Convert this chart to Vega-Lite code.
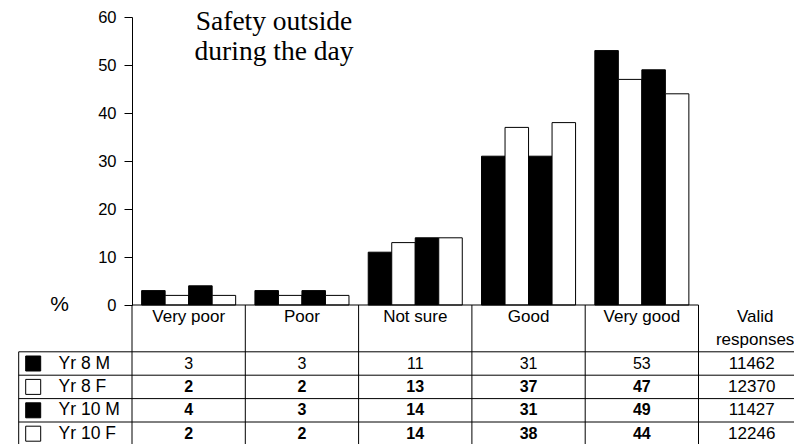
{
  "$schema": "https://vega.github.io/schema/vega-lite/v6.json",
  "width": 662,
  "height": 427,
  "autosize": {"type": "none"},
  "padding": {"left": 132, "top": 17, "right": 0, "bottom": 0},
  "background": "white",
  "config": {"view": {"stroke": null}, "font": "Liberation Sans"},
  "title": {
    "text": ["Safety outside", "during the day"],
    "font": "Liberation Serif",
    "fontSize": 27.5,
    "fontWeight": "normal",
    "color": "black",
    "anchor": "start",
    "frame": "group",
    "align": "center",
    "baseline": "top",
    "lineHeight": 30,
    "offset": 0,
    "dx": 142,
    "dy": 56
  },
  "datasets": {
    "bars": [
      {"cat": "Very poor", "grp": "Yr 8 M", "pct": 3},
      {"cat": "Very poor", "grp": "Yr 8 F", "pct": 2},
      {"cat": "Very poor", "grp": "Yr 10 M", "pct": 4},
      {"cat": "Very poor", "grp": "Yr 10 F", "pct": 2},
      {"cat": "Poor", "grp": "Yr 8 M", "pct": 3},
      {"cat": "Poor", "grp": "Yr 8 F", "pct": 2},
      {"cat": "Poor", "grp": "Yr 10 M", "pct": 3},
      {"cat": "Poor", "grp": "Yr 10 F", "pct": 2},
      {"cat": "Not sure", "grp": "Yr 8 M", "pct": 11},
      {"cat": "Not sure", "grp": "Yr 8 F", "pct": 13},
      {"cat": "Not sure", "grp": "Yr 10 M", "pct": 14},
      {"cat": "Not sure", "grp": "Yr 10 F", "pct": 14},
      {"cat": "Good", "grp": "Yr 8 M", "pct": 31},
      {"cat": "Good", "grp": "Yr 8 F", "pct": 37},
      {"cat": "Good", "grp": "Yr 10 M", "pct": 31},
      {"cat": "Good", "grp": "Yr 10 F", "pct": 38},
      {"cat": "Very good", "grp": "Yr 8 M", "pct": 53},
      {"cat": "Very good", "grp": "Yr 8 F", "pct": 47},
      {"cat": "Very good", "grp": "Yr 10 M", "pct": 49},
      {"cat": "Very good", "grp": "Yr 10 F", "pct": 44}
    ],
    "valid": [
      {"grp": "Yr 8 M", "n": 11462},
      {"grp": "Yr 8 F", "n": 12370},
      {"grp": "Yr 10 M", "n": 11427},
      {"grp": "Yr 10 F", "n": 12246}
    ],
    "heads": [
      {"col": "Very poor", "row": "h1", "label": "Very poor"},
      {"col": "Poor", "row": "h1", "label": "Poor"},
      {"col": "Not sure", "row": "h1", "label": "Not sure"},
      {"col": "Good", "row": "h1", "label": "Good"},
      {"col": "Very good", "row": "h1", "label": "Very good"},
      {"col": "Valid responses", "row": "h1", "label": "Valid"},
      {"col": "Valid responses", "row": "h2", "label": "responses"}
    ],
    "vlines": [
      {"col": "label", "from": "Yr 8 M"},
      {"col": "Very poor", "from": "h1"},
      {"col": "Poor", "from": "h1"},
      {"col": "Not sure", "from": "h1"},
      {"col": "Good", "from": "h1"},
      {"col": "Very good", "from": "h1"},
      {"col": "Valid responses", "from": "h1"}
    ],
    "hlines": [
      {"row": "h1", "from": "Very poor", "to": "Valid responses"},
      {"row": "Yr 8 M", "from": "label", "to": "end"},
      {"row": "Yr 8 F", "from": "label", "to": "end"},
      {"row": "Yr 10 M", "from": "label", "to": "end"},
      {"row": "Yr 10 F", "from": "label", "to": "end"},
      {"row": "end", "from": "label", "to": "end"}
    ]
  },
  "resolve": {"scale": {"x": "independent", "y": "independent", "fill": "independent"}},
  "layer": [
    {
      "data": {"name": "bars"},
      "mark": {"type": "bar", "stroke": "black", "strokeWidth": 1},
      "encoding": {
        "x": {"field": "cat", "type": "nominal", "scale": {"domain": ["Very poor", "Poor", "Not sure", "Good", "Very good"], "range": [0, 566.5], "paddingInner": 0.17, "paddingOuter": 0.085}, "axis": null},
        "xOffset": {"field": "grp", "type": "nominal", "scale": {"domain": ["Yr 8 M", "Yr 8 F", "Yr 10 M", "Yr 10 F"], "paddingInner": 0, "paddingOuter": 0}},
        "y": {"field": "pct", "type": "quantitative", "scale": {"domain": [0, 60], "range": [288, 0], "nice": false, "zero": true},
          "axis": {"values": [0, 10, 20, 30, 40, 50, 60], "tickSize": 8, "labelFontSize": 16.5, "labelFont": "Liberation Sans", "labelColor": "black", "labelPadding": 8, "domainColor": "black", "tickColor": "black", "grid": false, "title": null}},
        "fill": {"field": "grp", "type": "nominal", "scale": {"domain": ["Yr 8 M", "Yr 8 F", "Yr 10 M", "Yr 10 F"], "range": ["black", "white", "black", "white"]}, "legend": null}
      }
    },
    {
      "data": {"name": "vlines"},
      "mark": {"type": "rule", "color": "black", "strokeWidth": 1},
      "encoding": {
        "x": {"field": "col", "type": "nominal", "bandPosition": 0, "axis": null, "scale": {"type": "band", "domain": ["label", "Very poor", "Poor", "Not sure", "Good", "Very good", "Valid responses", "end"], "range": [-113.3, 793.1], "paddingInner": 0, "paddingOuter": 0}},
        "y": {"field": "from", "type": "nominal", "bandPosition": 0, "axis": null, "scale": {"type": "band", "domain": ["h1", "h2", "Yr 8 M", "Yr 8 F", "Yr 10 M", "Yr 10 F", "end"], "range": [288, 451.8], "paddingInner": 0, "paddingOuter": 0}},
        "y2": {"datum": "end", "bandPosition": 0}
      }
    },
    {
      "data": {"name": "hlines"},
      "mark": {"type": "rule", "color": "black", "strokeWidth": 1},
      "encoding": {
        "x": {"field": "from", "type": "nominal", "bandPosition": 0, "axis": null, "scale": {"type": "band", "domain": ["label", "Very poor", "Poor", "Not sure", "Good", "Very good", "Valid responses", "end"], "range": [-113.3, 793.1], "paddingInner": 0, "paddingOuter": 0}},
        "x2": {"field": "to", "bandPosition": 0},
        "y": {"field": "row", "type": "nominal", "bandPosition": 0, "axis": null, "scale": {"type": "band", "domain": ["h1", "h2", "Yr 8 M", "Yr 8 F", "Yr 10 M", "Yr 10 F", "end"], "range": [288, 451.8], "paddingInner": 0, "paddingOuter": 0}}
      }
    },
    {
      "data": {"name": "bars"},
      "transform": [{"filter": "datum.grp === 'Yr 8 M'"}],
      "mark": {"type": "text", "fontSize": 16, "baseline": "middle", "align": "center", "color": "black", "font": "Liberation Sans", "fontWeight": "normal"},
      "encoding": {
        "x": {"field": "cat", "type": "nominal", "axis": null, "scale": {"type": "band", "domain": ["label", "Very poor", "Poor", "Not sure", "Good", "Very good", "Valid responses", "end"], "range": [-113.3, 793.1], "paddingInner": 0, "paddingOuter": 0}},
        "y": {"field": "grp", "type": "nominal", "axis": null, "scale": {"type": "band", "domain": ["h1", "h2", "Yr 8 M", "Yr 8 F", "Yr 10 M", "Yr 10 F", "end"], "range": [288, 451.8], "paddingInner": 0, "paddingOuter": 0}},
        "text": {"field": "pct", "type": "quantitative"}
      }
    },
    {
      "data": {"name": "bars"},
      "transform": [{"filter": "datum.grp !== 'Yr 8 M'"}],
      "mark": {"type": "text", "fontSize": 16, "baseline": "middle", "align": "center", "color": "black", "font": "Liberation Sans", "fontWeight": "bold"},
      "encoding": {
        "x": {"field": "cat", "type": "nominal", "axis": null, "scale": {"type": "band", "domain": ["label", "Very poor", "Poor", "Not sure", "Good", "Very good", "Valid responses", "end"], "range": [-113.3, 793.1], "paddingInner": 0, "paddingOuter": 0}},
        "y": {"field": "grp", "type": "nominal", "axis": null, "scale": {"type": "band", "domain": ["h1", "h2", "Yr 8 M", "Yr 8 F", "Yr 10 M", "Yr 10 F", "end"], "range": [288, 451.8], "paddingInner": 0, "paddingOuter": 0}},
        "text": {"field": "pct", "type": "quantitative"}
      }
    },
    {
      "data": {"name": "valid"},
      "mark": {"type": "text", "fontSize": 17, "baseline": "middle", "align": "center", "color": "black", "font": "Liberation Sans"},
      "encoding": {
        "x": {"datum": "Valid responses", "type": "nominal", "bandPosition": 0.47, "axis": null, "scale": {"type": "band", "domain": ["label", "Very poor", "Poor", "Not sure", "Good", "Very good", "Valid responses", "end"], "range": [-113.3, 793.1], "paddingInner": 0, "paddingOuter": 0}},
        "y": {"field": "grp", "type": "nominal", "axis": null, "scale": {"type": "band", "domain": ["h1", "h2", "Yr 8 M", "Yr 8 F", "Yr 10 M", "Yr 10 F", "end"], "range": [288, 451.8], "paddingInner": 0, "paddingOuter": 0}},
        "text": {"field": "n", "type": "nominal"}
      }
    },
    {
      "data": {"name": "heads"},
      "mark": {"type": "text", "fontSize": 17, "baseline": "middle", "align": "center", "color": "black", "font": "Liberation Sans"},
      "encoding": {
        "x": {"field": "col", "type": "nominal", "bandPosition": 0.5, "axis": null, "scale": {"type": "band", "domain": ["label", "Very poor", "Poor", "Not sure", "Good", "Very good", "Valid responses", "end"], "range": [-113.3, 793.1], "paddingInner": 0, "paddingOuter": 0}},
        "y": {"field": "row", "type": "nominal", "axis": null, "scale": {"type": "band", "domain": ["h1", "h2", "Yr 8 M", "Yr 8 F", "Yr 10 M", "Yr 10 F", "end"], "range": [288, 451.8], "paddingInner": 0, "paddingOuter": 0}},
        "text": {"field": "label", "type": "nominal"}
      }
    },
    {
      "data": {"name": "valid"},
      "mark": {"type": "text", "fontSize": 17.5, "baseline": "middle", "align": "left", "color": "black", "font": "Liberation Sans"},
      "encoding": {
        "x": {"datum": "label", "type": "nominal", "bandPosition": 0.352, "axis": null, "scale": {"type": "band", "domain": ["label", "Very poor", "Poor", "Not sure", "Good", "Very good", "Valid responses", "end"], "range": [-113.3, 793.1], "paddingInner": 0, "paddingOuter": 0}},
        "y": {"field": "grp", "type": "nominal", "axis": null, "scale": {"type": "band", "domain": ["h1", "h2", "Yr 8 M", "Yr 8 F", "Yr 10 M", "Yr 10 F", "end"], "range": [288, 451.8], "paddingInner": 0, "paddingOuter": 0}},
        "text": {"field": "grp", "type": "nominal"}
      }
    },
    {
      "data": {"name": "valid"},
      "mark": {"type": "point", "shape": "square", "size": 225, "filled": true, "opacity": 1, "stroke": "black", "strokeWidth": 1},
      "encoding": {
        "x": {"datum": "label", "type": "nominal", "bandPosition": 0.128, "axis": null, "scale": {"type": "band", "domain": ["label", "Very poor", "Poor", "Not sure", "Good", "Very good", "Valid responses", "end"], "range": [-113.3, 793.1], "paddingInner": 0, "paddingOuter": 0}},
        "y": {"field": "grp", "type": "nominal", "axis": null, "scale": {"type": "band", "domain": ["h1", "h2", "Yr 8 M", "Yr 8 F", "Yr 10 M", "Yr 10 F", "end"], "range": [288, 451.8], "paddingInner": 0, "paddingOuter": 0}},
        "fill": {"field": "grp", "type": "nominal", "scale": {"domain": ["Yr 8 M", "Yr 8 F", "Yr 10 M", "Yr 10 F"], "range": ["black", "white", "black", "white"]}, "legend": null}
      }
    },
    {
      "data": {"values": [{"label": "%"}]},
      "mark": {"type": "text", "fontSize": 21, "baseline": "middle", "align": "center", "color": "black", "font": "Liberation Sans"},
      "encoding": {
        "x": {"datum": "label", "type": "nominal", "bandPosition": 0.362, "axis": null, "scale": {"type": "band", "domain": ["label", "Very poor", "Poor", "Not sure", "Good", "Very good", "Valid responses", "end"], "range": [-113.3, 793.1], "paddingInner": 0, "paddingOuter": 0}},
        "y": {"datum": "h1", "type": "nominal", "bandPosition": 0, "axis": null, "scale": {"type": "band", "domain": ["h1", "h2", "Yr 8 M", "Yr 8 F", "Yr 10 M", "Yr 10 F", "end"], "range": [288, 451.8], "paddingInner": 0, "paddingOuter": 0}},
        "text": {"field": "label", "type": "nominal"}
      }
    }
  ]
}
